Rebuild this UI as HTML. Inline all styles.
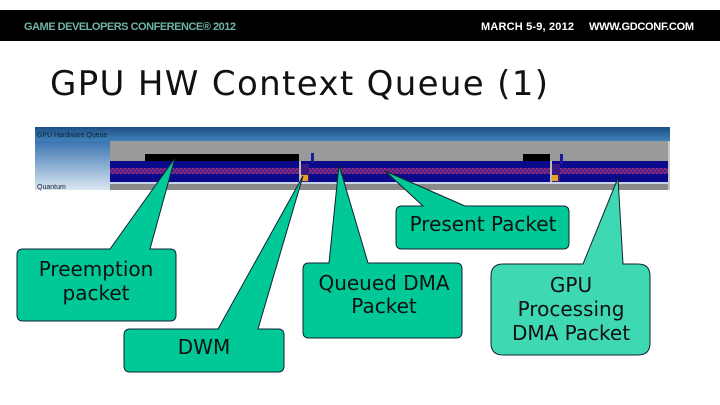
<!DOCTYPE html>
<html><head><meta charset="utf-8"><style>
html,body{margin:0;padding:0;background:#fff;width:720px;height:405px;overflow:hidden}
</style></head><body>
<svg width="720" height="405" viewBox="0 0 720 405" xmlns="http://www.w3.org/2000/svg">
<defs>
<linearGradient id="tb" x1="0" y1="0" x2="0" y2="1"><stop offset="0" stop-color="#1d4f86"/><stop offset="1" stop-color="#3f82b8"/></linearGradient>
<linearGradient id="lp" x1="0" y1="0" x2="0" y2="1"><stop offset="0" stop-color="#3a74b0"/><stop offset="1" stop-color="#dbe7f3"/></linearGradient>
<pattern id="hatch" width="4" height="4" patternUnits="userSpaceOnUse"><rect width="4" height="4" fill="#4a1f8a"/><rect width="2" height="2" fill="#8a2a7a"/><rect x="2" y="2" width="2" height="2" fill="#8a2a7a"/></pattern>
</defs>
<rect x="0" y="10" width="720" height="31" fill="#000"/>
<text x="24" y="30" font-family="Liberation Sans, sans-serif" font-weight="bold" font-size="11" fill="#6fb3a6" textLength="212">GAME DEVELOPERS CONFERENCE® 2012</text>
<text x="481" y="30" font-family="Liberation Sans, sans-serif" font-weight="bold" font-size="11" fill="#fff" textLength="93">MARCH 5-9, 2012</text>
<text x="589" y="30" font-family="Liberation Sans, sans-serif" font-weight="bold" font-size="11" fill="#fff" textLength="105">WWW.GDCONF.COM</text>
<text x="50" y="95" font-family="DejaVu Sans, sans-serif" font-size="34" fill="#111" textLength="498">GPU HW Context Queue (1)</text>
<rect x="35" y="127" width="635" height="63" fill="#c8c8c8"/>
<rect x="35" y="127" width="635" height="14" fill="url(#tb)"/>
<rect x="35" y="141" width="75" height="49" fill="url(#lp)"/>
<text x="37" y="137" font-family="Liberation Sans, sans-serif" font-size="7" fill="#123">GPU Hardware Queue</text>
<text x="37" y="189" font-family="Liberation Sans, sans-serif" font-size="7" fill="#123">Quantum</text>
<rect x="110" y="141" width="558" height="20" fill="#9a9a9a"/>
<rect x="110" y="161" width="558" height="21" fill="#0a0a8a"/>
<rect x="110" y="168" width="558" height="6" fill="url(#hatch)"/>
<rect x="110" y="182" width="558" height="2" fill="#c9d3ee"/>
<rect x="110" y="184" width="558" height="6" fill="#8a8a8a"/>
<rect x="145" y="154" width="154" height="7" fill="#000"/>
<rect x="299" y="161" width="2" height="21" fill="#bbb"/>
<rect x="301" y="164" width="8" height="18" fill="#3a1a80"/>
<rect x="301" y="175" width="7" height="6" fill="#e8a020"/>
<rect x="311" y="153" width="3" height="10" fill="#1a1a9a"/>
<rect x="523" y="154" width="27" height="7" fill="#000"/>
<rect x="550" y="161" width="2" height="21" fill="#bbb"/>
<rect x="552" y="164" width="8" height="18" fill="#3a1a80"/>
<rect x="552" y="175" width="6" height="6" fill="#e8a020"/>
<rect x="560" y="154" width="3" height="10" fill="#1a1a9a"/>
<g stroke="#123" stroke-width="1" fill="#00c896">
<path d="M17,255 Q17,249 23,249 L110,249 L175,158 L150,249 L170,249 Q176,249 176,255 L176,315 Q176,321 170,321 L23,321 Q17,321 17,315 Z"/>
<path d="M124,335 Q124,329 130,329 L218,329 L303,176 L258,329 L278,329 Q284,329 284,335 L284,366 Q284,372 278,372 L130,372 Q124,372 124,366 Z"/>
<path d="M396,212 Q396,206 402,206 L423,206 L385,171 L465,206 L563,206 Q569,206 569,212 L569,243 Q569,249 563,249 L402,249 Q396,249 396,243 Z"/>
<path d="M303,269 Q303,263 309,263 L329,263 L339,165 L368,263 L456,263 Q462,263 462,269 L462,332 Q462,338 456,338 L309,338 Q303,338 303,332 Z"/>
<path fill="#3ed8b2" d="M491,276 Q491,264 503,264 L583,264 L618,178 L623,264 L638,264 Q650,264 650,276 L650,343 Q650,355 638,355 L503,355 Q491,355 491,343 Z"/>
</g>
<g font-family="DejaVu Sans, sans-serif" font-size="20" fill="#111" text-anchor="middle">
<text x="96" y="276">Preemption</text>
<text x="96" y="300">packet</text>
<text x="204" y="354">DWM</text>
<text x="483" y="231">Present Packet</text>
<text x="384" y="290">Queued DMA</text>
<text x="384" y="313">Packet</text>
<text x="571" y="292">GPU</text>
<text x="571" y="316">Processing</text>
<text x="571" y="340">DMA Packet</text>
</g>
</svg>
</body></html>
